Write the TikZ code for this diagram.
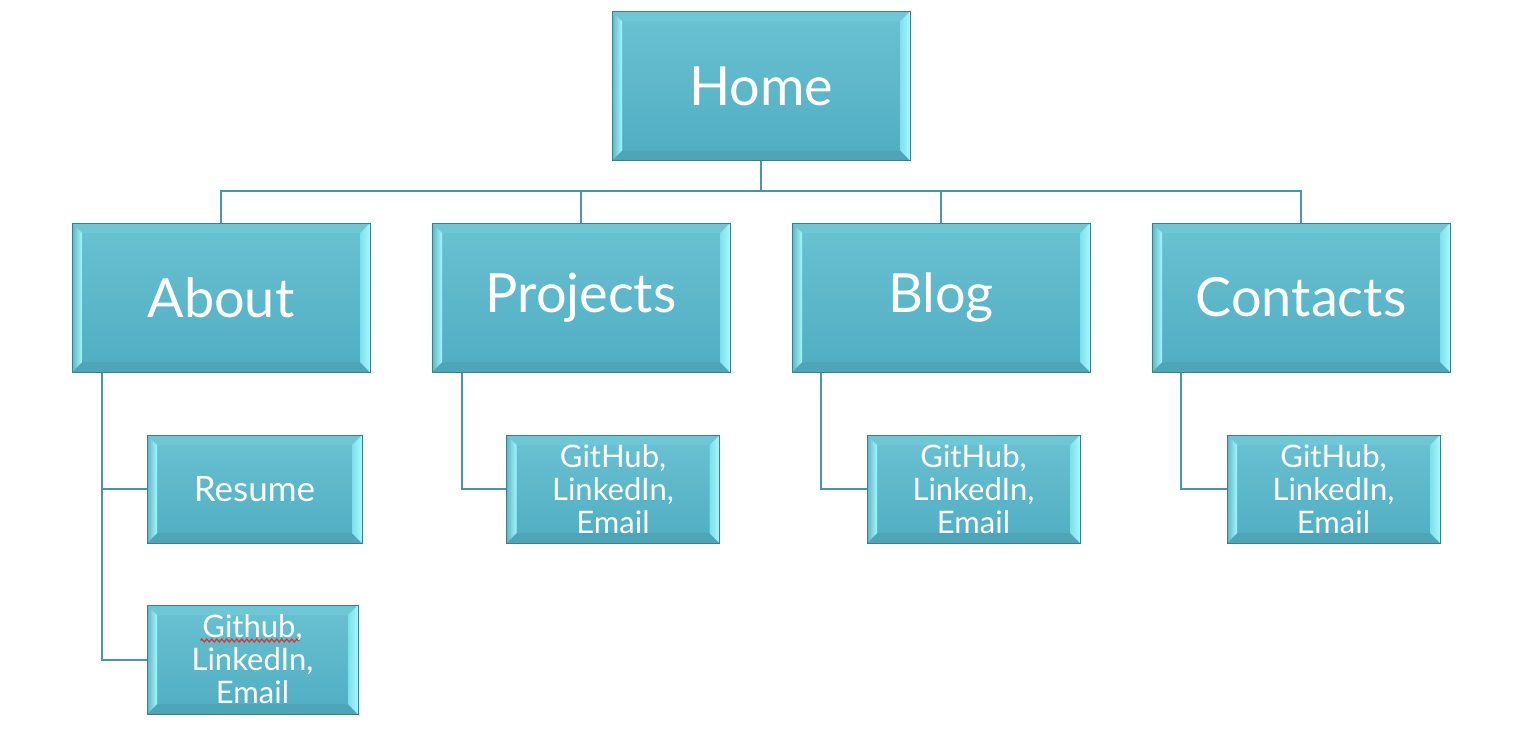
\documentclass[tikz,border=0pt]{standalone}
\usepackage{fontspec}
\setmainfont{Lato}
\usepackage{tikz}
\usetikzlibrary{positioning, decorations.pathmorphing}

\definecolor{facetop}{HTML}{6AC2D2}
\definecolor{facebot}{HTML}{50ADC2}
\definecolor{boxedge}{HTML}{3E7E89}
\definecolor{linkcol}{HTML}{4A97A4}
\definecolor{bevlo}{HTML}{5DB6C8}
\definecolor{bevmid}{HTML}{7EE0EB}
\definecolor{bevhi}{HTML}{A4F8FC}
\definecolor{bevtop}{HTML}{6FC6D5}
\definecolor{bevbot}{HTML}{4DA5B7}
\definecolor{spellred}{HTML}{D23A3A}

\tikzset{
  bevel/.style={
    path picture={
      \coordinate (bnw) at (path picture bounding box.north west);
      \coordinate (bne) at (path picture bounding box.north east);
      \coordinate (bsw) at (path picture bounding box.south west);
      \coordinate (bse) at (path picture bounding box.south east);
      \fill[bevtop] (bnw) -- (bne) -- ([shift={(-10pt,-10pt)}]bne) -- ([shift={(10pt,-10pt)}]bnw) -- cycle;
      \fill[bevbot] (bsw) -- (bse) -- ([shift={(-10pt,10pt)}]bse) -- ([shift={(10pt,10pt)}]bsw) -- cycle;
      \shade[left color=bevlo, right color=bevhi] (bnw) -- (bsw) -- ([shift={(10pt,10pt)}]bsw) -- ([shift={(10pt,-10pt)}]bnw) -- cycle;
      \shade[left color=bevmid, right color=bevhi] (bne) -- (bse) -- ([shift={(-10pt,10pt)}]bse) -- ([shift={(-10pt,-10pt)}]bne) -- cycle;
    }},
  bigbox/.style={bevel, draw=boxedge, line width=1pt, top color=facetop, bottom color=facebot,
    text=white, inner sep=0pt, minimum width=298pt, minimum height=149pt,
    font=\fontsize{54}{60}\selectfont},
  smallbox/.style={bevel, draw=boxedge, line width=1pt, top color=facetop, bottom color=facebot,
    text=white, inner sep=0pt, align=center, minimum width=213pt, minimum height=108pt,
    font=\fontsize{31}{33}\selectfont},
  link/.style={draw=linkcol, line width=2pt},
}

\begin{document}
\begin{tikzpicture}[x=1pt, y=-1pt]
    \useasboundingbox (0,0) rectangle (1516,732);

    % top level
    \node[bigbox] (home) at (761,86) {Home};
    \node[bigbox] (about) at (221,297.5) {About};
    \node[bigbox, right=61pt of about] (projects) {Projects};
    \node[bigbox, right=61pt of projects] (blog) {Blog};
    \node[bigbox, right=61pt of blog] (contacts) {Contacts};

    % second level
    \node[smallbox, minimum width=215pt, font=\fontsize{35}{40}\selectfont] (resume) at (254.5,489) {Resume};
    \node[smallbox, minimum width=211pt, minimum height=109pt] (aboutlinks) at (252.5,659.5) {Github,\\LinkedIn,\\Email};
    \node[smallbox] (projlinks) at (613,489) {GitHub,\\LinkedIn,\\Email};
    \node[smallbox] (bloglinks) at (973.5,489) {GitHub,\\LinkedIn,\\Email};
    \node[smallbox] (contlinks) at (1333.5,489) {GitHub,\\LinkedIn,\\Email};

    \coordinate (bus) at (761,191);
    \draw[link] (home) -- (bus);
    \foreach \n in {about,projects,blog,contacts}
        \draw[link] (bus) -| (\n);

    \draw[link] ([xshift=30pt]about.south west) |- (resume);
    \draw[link] ([xshift=30pt]about.south west) |- (aboutlinks);
    \draw[link] ([xshift=30pt]projects.south west) |- (projlinks);
    \draw[link] ([xshift=29pt]blog.south west) |- (bloglinks);
    \draw[link] ([xshift=29pt]contacts.south west) |- (contlinks);

    % spell-check mark
    \draw[spellred, line width=1.3pt, decorate, decoration={zigzag, amplitude=1.5pt, segment length=5pt}]
        ([shift={(-52pt,19pt)}]aboutlinks.center) -- ([shift={(47pt,19pt)}]aboutlinks.center);
\end{tikzpicture}
\end{document}
